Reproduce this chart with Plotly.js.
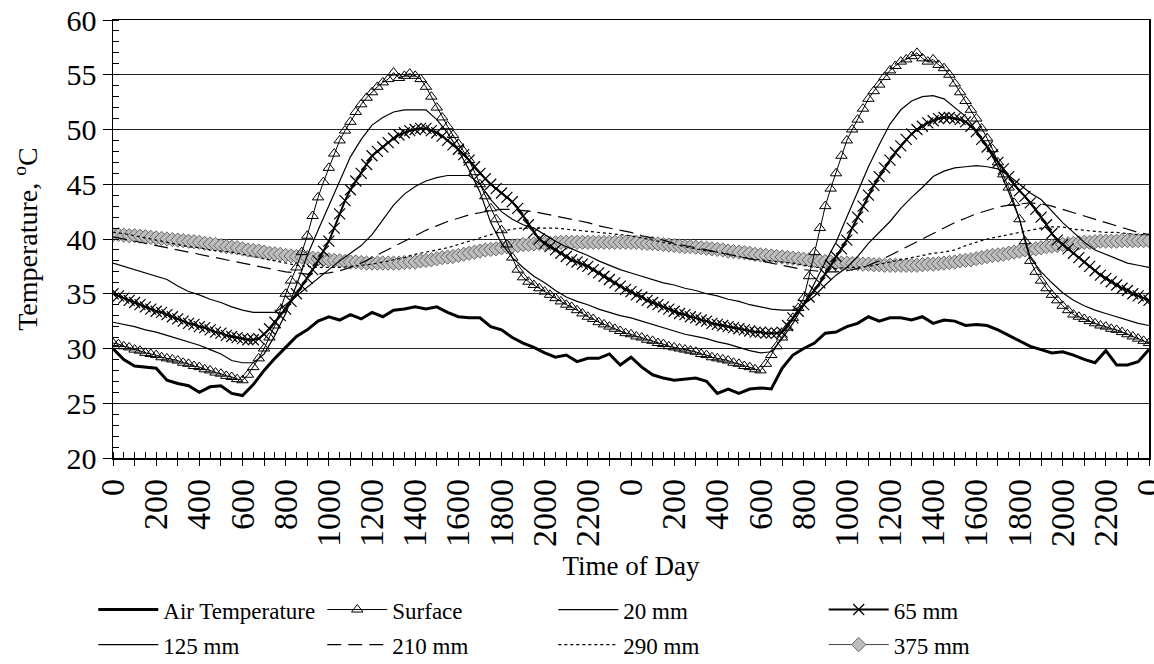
<!DOCTYPE html>
<html>
<head>
<meta charset="utf-8">
<script src="https://cdn.plot.ly/plotly-3.0.1.min.js"></script>
<style>
html,body{margin:0;padding:0;background:#fff;}
#chart{width:1154px;height:664px;}
</style>
</head>
<body>
<div id="chart"></div>
<script>
// Time axis: hours from start of day 1 (15-min and 30-min sampling)
const hours15 = Array.from({length: 193}, (_, i) => i * 0.25);
const hours30 = Array.from({length: 97}, (_, i) => i * 0.5);

// Tick labels (HHMM) at every 2 hours
const timeLabels = ['0','200','400','600','800','1000','1200','1400','1600','1800','2000','2200',
                    '0','200','400','600','800','1000','1200','1400','1600','1800','2000','2200','0'];

// Series values (°C)
const airTemp = [
  30.0,29.0,28.4,28.3,28.2,27.1,26.8,26.6,26.0,26.5,26.6,25.9,
  25.7,26.7,28.0,29.1,30.1,31.1,31.7,32.5,32.9,32.6,33.1,32.7,
  33.3,32.9,33.5,33.6,33.8,33.6,33.8,33.3,32.9,32.8,32.8,32.0,
  31.7,31.0,30.5,30.1,29.6,29.2,29.4,28.8,29.1,29.1,29.5,28.5,
  29.2,28.3,27.6,27.3,27.1,27.2,27.3,27.0,25.9,26.3,25.9,26.3,
  26.4,26.3,28.2,29.4,30.0,30.5,31.4,31.5,32.0,32.3,32.9,32.5,
  32.8,32.8,32.6,32.9,32.3,32.6,32.5,32.1,32.2,32.1,31.7,31.2,
  30.7,30.2,29.9,29.6,29.7,29.4,29.0,28.7,29.8,28.5,28.5,28.8,
  29.9];

const surface = [
  30.5,30.4,30.2,30.1,29.9,29.8,29.6,29.5,29.4,29.2,29.1,29.0,
  28.9,28.7,28.6,28.4,28.3,28.1,28.0,27.8,27.7,27.5,27.4,27.2,
  27.1,27.6,28.3,29.1,30.0,31.0,32.1,33.5,35.0,36.2,37.4,38.8,
  40.3,42.1,43.8,45.2,46.5,47.8,49.0,49.9,50.7,51.6,52.3,52.9,
  53.4,53.9,54.3,54.6,55.2,54.7,54.9,55.1,54.9,54.6,53.9,53.0,
  52.0,51.1,50.3,49.5,48.7,48.0,47.2,46.1,45.0,43.9,42.8,41.8,
  40.8,39.5,38.3,37.2,36.5,36.1,35.8,35.5,35.2,34.9,34.6,34.3,
  34.0,33.8,33.5,33.2,32.9,32.7,32.4,32.2,32.0,31.8,31.6,31.4,
  31.3,31.1,31.0,30.8,30.7,30.5,30.4,30.2,30.1,30.0,29.9,29.8,
  29.7,29.5,29.4,29.2,29.1,29.0,28.9,28.7,28.6,28.4,28.3,28.1,
  28.0,28.6,29.4,30.2,31.0,31.9,32.8,33.7,34.6,36.6,38.8,41.0,
  43.0,44.6,46.0,47.6,49.0,50.0,50.9,51.9,52.8,53.5,54.1,54.8,
  55.4,55.8,56.2,56.4,56.7,57.0,56.5,56.2,56.4,55.9,55.6,55.0,
  54.2,53.4,52.6,51.8,51.0,50.1,49.2,48.2,47.0,45.9,44.7,43.3,
  41.8,39.8,38.0,37.0,36.2,35.5,34.9,34.4,33.9,33.5,33.1,32.9,
  32.7,32.5,32.3,32.1,32.0,31.8,31.7,31.5,31.3,31.1,30.9,30.7,
  30.5];

const mm20 = [
  32.4,32.2,32.0,31.7,31.5,31.2,30.9,30.6,30.3,29.9,29.5,28.9,
  28.7,28.7,29.5,31.2,33.2,35.8,38.5,40.8,43.0,45.3,47.5,49.1,
  50.4,51.1,51.6,51.8,51.8,51.8,50.9,49.7,48.1,46.3,44.3,41.5,
  39.6,38.3,37.4,36.6,36.0,35.3,34.7,34.3,34.0,33.6,33.3,33.0,
  32.8,32.5,32.2,31.9,31.6,31.3,31.1,30.9,30.6,30.4,30.1,29.8,
  29.6,29.7,30.9,32.3,34.0,36.0,37.9,39.7,42.0,44.4,46.6,48.6,
  50.5,51.8,52.6,53.0,53.1,52.8,52.0,51.2,49.9,48.4,46.6,44.3,
  41.8,38.3,37.0,36.0,35.1,34.4,33.9,33.5,33.2,32.9,32.6,32.3,
  32.1];

const mm65 = [
  35.0,34.8,34.6,34.4,34.2,34.0,33.8,33.6,33.4,33.3,33.1,32.9,
  32.7,32.5,32.3,32.2,32.0,31.9,31.7,31.5,31.4,31.2,31.1,31.0,
  30.9,30.8,30.8,30.9,31.3,31.8,32.4,33.0,33.6,34.3,35.0,35.7,
  36.4,37.2,38.0,38.9,39.8,41.0,42.3,43.5,44.5,45.3,46.0,46.8,
  47.6,48.0,48.4,48.8,49.2,49.5,49.7,49.9,50.0,50.1,50.1,49.9,
  49.7,49.4,49.0,48.6,48.2,47.7,47.2,46.6,46.0,45.5,45.0,44.6,
  44.2,43.8,43.4,42.8,42.1,41.3,40.6,40.0,39.6,39.3,39.0,38.7,
  38.4,38.1,37.9,37.7,37.5,37.2,36.9,36.6,36.3,36.0,35.7,35.4,
  35.2,34.9,34.7,34.4,34.2,34.0,33.8,33.6,33.4,33.2,33.1,32.9,
  32.8,32.6,32.5,32.3,32.2,32.1,32.0,31.9,31.8,31.7,31.6,31.5,
  31.5,31.4,31.4,31.4,31.5,32.1,32.8,33.4,34.0,34.7,35.3,36.0,
  36.8,37.6,38.4,39.1,39.9,41.0,42.0,43.0,44.0,44.9,45.7,46.5,
  47.2,47.9,48.5,49.1,49.6,50.0,50.3,50.6,50.8,51.0,51.1,51.1,
  51.0,50.9,50.7,50.3,49.8,49.1,48.4,47.7,47.0,46.4,45.7,45.0,
  44.4,43.9,43.3,42.7,42.0,41.3,40.5,39.9,39.5,39.1,38.7,38.3,
  37.9,37.5,37.1,36.7,36.4,36.1,35.8,35.5,35.3,35.0,34.8,34.6,
  34.4];

const mm125 = [
  37.8,37.5,37.2,36.9,36.6,36.3,35.7,35.2,34.9,34.5,34.2,33.8,
  33.5,33.3,33.3,33.3,34.0,34.8,35.6,36.4,37.2,38.0,38.7,39.4,
  40.4,41.8,43.1,44.1,44.8,45.3,45.6,45.8,45.8,45.8,45.0,43.6,
  42.5,41.8,41.3,41.0,40.4,39.8,39.3,38.9,38.5,38.0,37.6,37.2,
  36.9,36.6,36.3,36.0,35.8,35.5,35.3,35.0,34.8,34.5,34.3,34.0,
  33.8,33.6,33.5,33.5,34.0,34.8,35.8,36.7,37.4,38.4,39.6,40.6,
  41.6,42.8,43.8,44.7,45.7,46.2,46.5,46.6,46.7,46.6,46.4,45.8,
  45.0,44.2,43.6,42.5,41.5,40.6,39.7,39.0,38.6,38.2,37.8,37.6,
  37.4];

const mm210 = [
  40.2,40.0,39.8,39.6,39.4,39.2,39.0,38.8,38.6,38.4,38.2,38.0,
  37.8,37.6,37.4,37.2,37.0,36.9,36.8,36.8,36.9,37.1,37.4,37.8,
  38.3,38.8,39.3,39.8,40.3,40.8,41.2,41.6,41.9,42.2,42.4,42.6,
  42.7,42.7,42.6,42.5,42.3,42.1,41.9,41.7,41.5,41.2,41.0,40.8,
  40.6,40.3,40.1,39.9,39.6,39.4,39.2,39.0,38.8,38.6,38.4,38.2,
  38.0,37.8,37.6,37.4,37.2,37.1,37.0,37.0,37.1,37.3,37.6,38.0,
  38.5,39.0,39.5,40.0,40.5,41.0,41.5,41.9,42.3,42.6,42.9,43.1,
  43.2,43.3,43.2,43.0,42.7,42.4,42.1,41.8,41.5,41.2,40.9,40.6,
  40.4];

const mm290 = [
  40.6,40.5,40.3,40.1,39.9,39.7,39.5,39.3,39.2,39.0,38.9,38.8,
  38.6,38.4,38.2,38.0,37.8,37.6,37.5,37.4,37.4,37.4,37.5,37.6,
  37.7,37.9,38.1,38.3,38.6,38.8,39.0,39.2,39.5,39.8,40.1,40.4,
  40.7,40.9,41.0,41.0,41.0,41.0,40.9,40.8,40.7,40.6,40.5,40.4,
  40.3,40.1,39.9,39.7,39.5,39.3,39.1,38.9,38.8,38.6,38.4,38.2,
  38.1,38.0,37.9,37.8,37.6,37.4,37.4,37.3,37.4,37.4,37.5,37.7,
  37.9,38.1,38.3,38.5,38.7,38.8,39.0,39.4,39.7,40.0,40.2,40.4,
  40.6,40.8,41.0,41.1,41.1,40.9,40.8,40.7,40.6,40.6,40.5,40.4,
  40.4];

const mm375 = [
  40.4,40.4,40.35,40.3,40.3,40.25,40.2,40.15,40.1,40.05,40.0,39.95,
  39.9,39.85,39.8,39.75,39.7,39.6,39.55,39.5,39.4,39.3,39.25,39.2,
  39.1,39.0,38.95,38.9,38.8,38.7,38.65,38.6,38.5,38.45,38.4,38.35,
  38.3,38.25,38.2,38.15,38.1,38.05,38.0,37.95,37.9,37.9,37.85,37.8,
  37.8,37.8,37.8,37.8,37.8,37.8,37.85,37.9,37.9,38.0,38.05,38.1,
  38.2,38.3,38.35,38.4,38.5,38.6,38.7,38.8,38.9,39.0,39.05,39.1,
  39.2,39.3,39.35,39.4,39.5,39.5,39.55,39.6,39.6,39.6,39.65,39.7,
  39.7,39.7,39.7,39.7,39.7,39.7,39.7,39.7,39.7,39.7,39.7,39.7,
  39.7,39.7,39.65,39.6,39.6,39.55,39.5,39.45,39.4,39.35,39.3,39.3,
  39.25,39.2,39.15,39.1,39.05,39.0,38.9,38.85,38.8,38.75,38.7,38.6,
  38.55,38.5,38.45,38.4,38.35,38.3,38.25,38.2,38.15,38.1,38.05,38.0,
  37.95,37.9,37.85,37.8,37.8,37.75,37.75,37.7,37.7,37.65,37.65,37.6,
  37.6,37.6,37.6,37.6,37.6,37.6,37.65,37.7,37.7,37.75,37.8,37.85,
  37.9,38.0,38.05,38.1,38.2,38.3,38.4,38.5,38.55,38.6,38.7,38.8,
  38.9,39.0,39.05,39.1,39.2,39.3,39.35,39.4,39.5,39.55,39.6,39.65,
  39.7,39.7,39.75,39.8,39.8,39.8,39.8,39.85,39.85,39.85,39.85,39.85,
  39.85];

// Axis tick positions: a major tick every hour, label every 2 hours
const tickVals = Array.from({length: 49}, (_, i) => i);
const tickText = tickVals.map(h => (h % 2 === 0 ? timeLabels[h / 2] : ''));

const FONT = 'Liberation Serif';
const black = '#000000';

const traces = [
  {name: '375 mm', x: hours15, y: mm375, mode: 'lines+markers', legend: 'legend8',
   line: {color: '#404040', width: 1},
   marker: {symbol: 'diamond', size: 11, color: '#BDBDBD', line: {color: '#666666', width: 1}}},
  {name: 'Air Temperature', x: hours30, y: airTemp, mode: 'lines', legend: 'legend',
   line: {color: black, width: 3}},
  {name: 'Surface', x: hours15, y: surface, mode: 'lines+markers', legend: 'legend2',
   line: {color: black, width: 1},
   marker: {symbol: 'triangle-up-open', size: 10, color: black, line: {color: black, width: 1}}},
  {name: '20 mm', x: hours30, y: mm20, mode: 'lines', legend: 'legend3',
   line: {color: black, width: 1.2}},
  {name: '65 mm', x: hours15, y: mm65, mode: 'lines+markers', legend: 'legend4',
   line: {color: black, width: 2},
   marker: {symbol: 'x-thin-open', size: 11, color: black, line: {color: black, width: 1.2}}},
  {name: '125 mm', x: hours30, y: mm125, mode: 'lines', legend: 'legend5',
   line: {color: black, width: 1.2}},
  {name: '210 mm', x: hours30, y: mm210, mode: 'lines', legend: 'legend6',
   line: {color: black, width: 1.2, dash: '14px,7px'}},
  {name: '290 mm', x: hours30, y: mm290, mode: 'lines', legend: 'legend7',
   line: {color: black, width: 1.2, dash: '3px,3px'}}
];

function leg(x, y) {
  return {x: x, y: y, xanchor: 'left', yanchor: 'top', orientation: 'v',
          bgcolor: 'rgba(0,0,0,0)', borderwidth: 0, itemwidth: 60,
          font: {family: FONT, size: 23, color: black}};
}
const row1 = -0.297, row2 = -0.377;
const c1 = -0.019, c2 = 0.202, c3 = 0.425, c4 = 0.686;

const layout = {
  width: 1154, height: 664,
  margin: {l: 113, r: 5, t: 20, b: 206, autoexpand: false},
  paper_bgcolor: '#ffffff', plot_bgcolor: '#ffffff',
  font: {family: FONT, color: black, size: 22},
  showlegend: true,
  legend: leg(c1, row1), legend2: leg(c2, row1), legend3: leg(c3, row1), legend4: leg(c4, row1),
  legend5: leg(c1, row2), legend6: leg(c2, row2), legend7: leg(c3, row2), legend8: leg(c4, row2),
  xaxis: {
    range: [0, 48], tickmode: 'array', tickvals: tickVals, ticktext: tickText,
    tickangle: -90, ticks: 'outside', ticklen: 6, tickcolor: black, tickwidth: 1,
    ticklabeloverflow: 'allow',
    minor: {ticks: 'inside', dtick: 0.5, tick0: 0, ticklen: 6, tickcolor: black, tickwidth: 1, showgrid: false},
    showgrid: false, zeroline: false, showline: true, linecolor: black, linewidth: 1.5, mirror: true,
    tickfont: {family: FONT, size: 34, color: black},
    title: {text: 'Time of Day', font: {family: FONT, size: 27, color: black}, standoff: 10},
    automargin: false, fixedrange: true
  },
  yaxis: {
    range: [20, 60], dtick: 5, tick0: 20, ticks: 'outside', ticklen: 9, tickcolor: black, tickwidth: 1,
    minor: {ticks: 'inside', dtick: 1, tick0: 20, ticklen: 6, tickcolor: black, tickwidth: 1, showgrid: false},
    showgrid: true, gridcolor: '#222222', gridwidth: 1,
    zeroline: false, showline: true, linecolor: black, linewidth: 1.5, mirror: true,
    tickfont: {family: FONT, size: 30, color: black},
    title: {text: 'Temperature, <sup>o</sup>C', font: {family: FONT, size: 28, color: black}, standoff: 20},
    automargin: false, fixedrange: true
  }
};

Plotly.newPlot('chart', traces, layout, {displayModeBar: false, staticPlot: true}).then(gd => {
  // Lengthen the legend line samples (Excel-style 60 px samples) and centre the markers on them
  gd.querySelectorAll('.legendlines path').forEach(p => p.setAttribute('d', 'M5,0h60'));
  gd.querySelectorAll('.legendpoints path.scatterpts').forEach(p => p.setAttribute('transform', 'translate(35,0)'));
});
</script>
</body>
</html>
